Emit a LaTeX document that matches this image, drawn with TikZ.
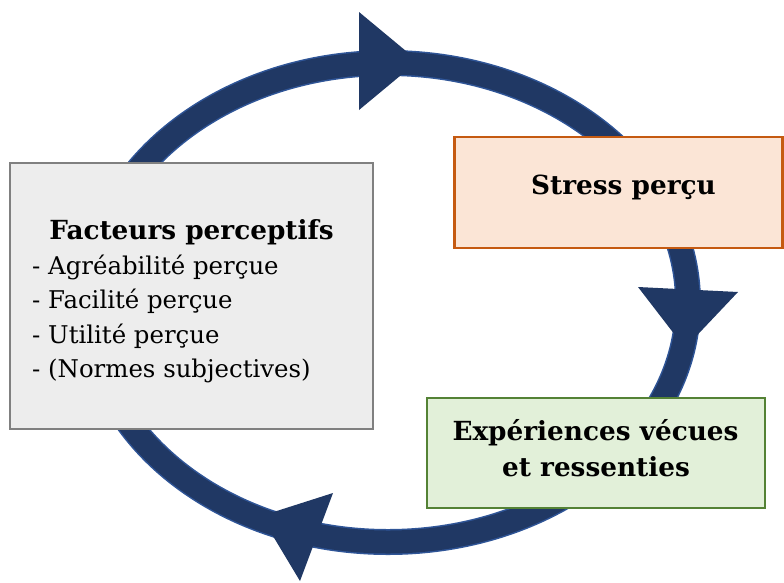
\documentclass[tikz,border=0pt]{standalone}
\usepackage{fontspec}
\setmainfont{DejaVu Serif}
\definecolor{ringblue}{HTML}{203864}
\definecolor{ringedge}{HTML}{2F5597}
\definecolor{grayfill}{HTML}{EDEDED}
\definecolor{grayline}{HTML}{808080}
\definecolor{orangefill}{HTML}{FBE5D6}
\definecolor{orangeline}{HTML}{C55A11}
\definecolor{greenfill}{HTML}{E2F0D9}
\definecolor{greenline}{HTML}{548235}
\begin{document}
\begin{tikzpicture}[x=1pt,y=-1pt,
  ringout/.style={line width=26pt, draw=ringedge},
  ringin/.style={line width=23pt, draw=ringblue},
  tri/.style={fill=ringblue},
  box/.style={rectangle, line width=2.2pt, inner sep=0pt},
  heading/.style={font=\fontsize{26.3}{31}\selectfont\bfseries, inner sep=0pt, anchor=base},
  item/.style={font=\fontsize{24.4}{29}\selectfont, inner sep=0pt, anchor=base west}]
\useasboundingbox (0,0) rectangle (784,582);
% ring
\draw[ringout] (388,302.5) ellipse [x radius=300pt, y radius=239.5pt];
\draw[ringin] (388,302.5) ellipse [x radius=300pt, y radius=239.5pt];
% arrowheads
\fill[tri] (359,12) -- (418,61) -- (359,110) -- cycle;
\fill[tri] (638,287) -- (685,348) -- (738,292) -- cycle;
\fill[tri] (333,493) -- (261,516) -- (300,581) -- cycle;
% boxes
\node[box, draw=grayline, fill=grayfill, minimum width=363pt, minimum height=266pt] (fbox) at (191.5,296) {};
\node[box, draw=orangeline, fill=orangefill, minimum width=328pt, minimum height=111pt] (sbox) at (618.5,192.5) {};
\node[box, draw=greenline, fill=greenfill, minimum width=338pt, minimum height=110pt] (ebox) at (596,453) {};
% texts
\node[heading] (fh) at (191.5,239) {Facteurs perceptifs};
\node[item] (f1) at (32,274) {- Agréabilité perçue};
\node[item] (f2) at (32,308.5) {- Facilité perçue};
\node[item] (f3) at (32,343) {- Utilité perçue};
\node[item] (f4) at (32,377.5) {- (Normes subjectives)};
\node[heading] (sh) at (623.5,194) {Stress perçu};
\node[heading] (e1) at (595.5,440) {Expériences vécues};
\node[heading] (e2) at (596,476) {et ressenties};
\end{tikzpicture}
\end{document}
